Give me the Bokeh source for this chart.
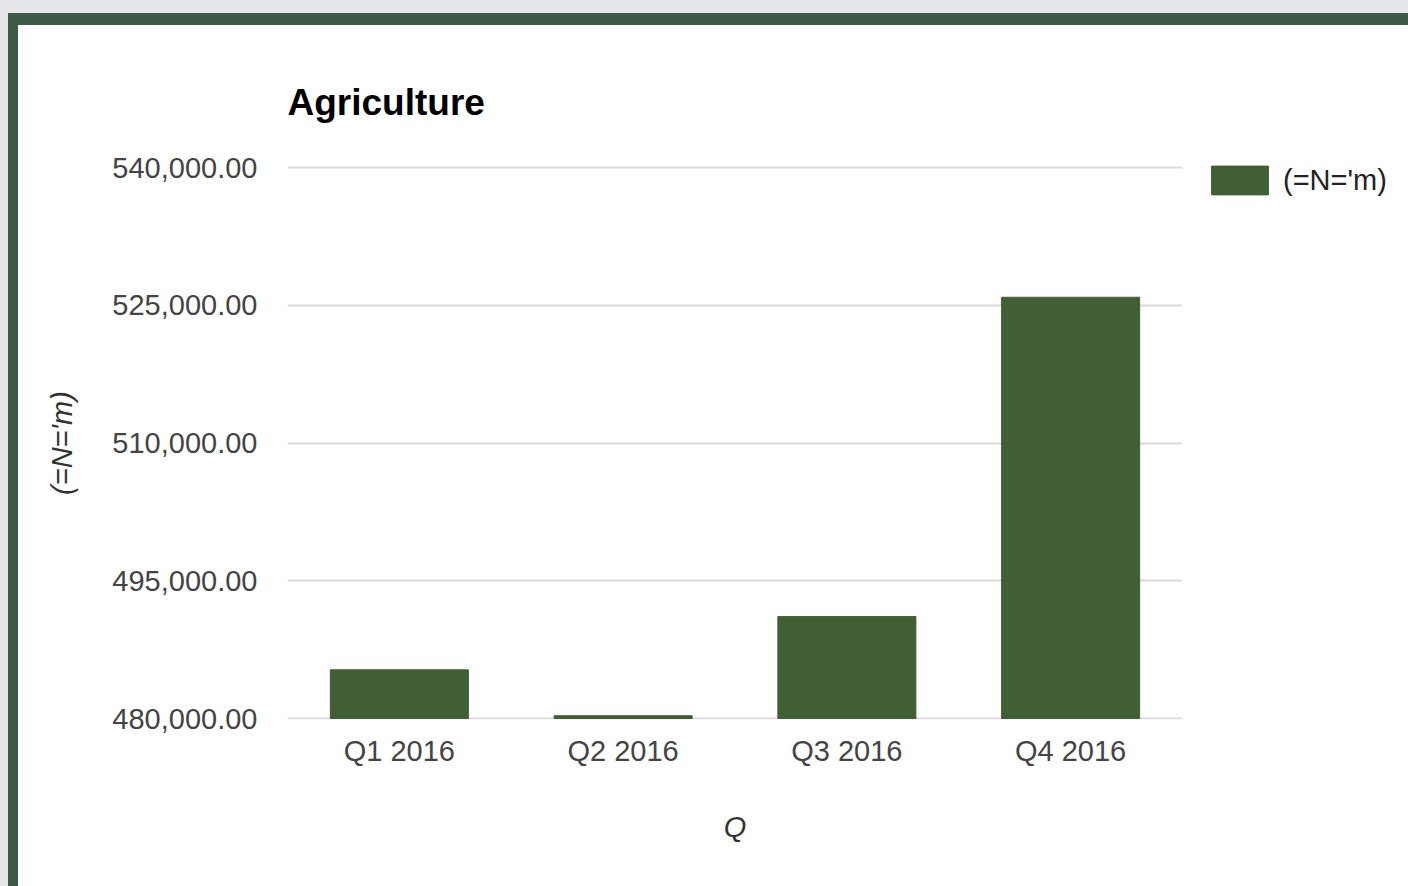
from bokeh.plotting import figure
from bokeh.models import (FixedTicker, NumeralTickFormatter, Legend, LegendItem,
                          ColumnDataSource, Range1d, Div)
from bokeh.layouts import column, row
from bokeh.embed import file_html
from bokeh.resources import INLINE

# ---- data ----
quarters = ["Q1 2016", "Q2 2016", "Q3 2016", "Q4 2016"]
values = [485300, 480300, 491100, 525870]
y_ticks = [480000, 495000, 510000, 525000, 540000]
y_min, y_max = 480000, 540000
series_name = "(=N='m)"
title_text = "Agriculture"
x_title = "Q"
y_title = "(=N='m)"

BAR = "#415e34"
FRAME = "#3d5b48"
PAGE = "#e6e7e9"
FONT = "Liberation Sans"

PW, PH = 1408, 886            # page size
GT, GL = 13, 8                 # grey strips (top, left)
BT, BL = 12, 10                # green border (top, left)
W, H = PW - GL - BL, PH - GT - BT
PAD = 1                        # px of room so the end grid lines are not clipped
ML, MT = 287 - GL - BL, 167 - GT - BT - PAD
FW, FH = 895, 551 + 2 * PAD
MR, MB = W - ML - FW, H - MT - FH
pad_val = (y_max - y_min) / 551 * PAD

src = ColumnDataSource(dict(q=quarters, v=values))

p = figure(x_range=quarters, y_range=Range1d(y_min - pad_val, y_max + pad_val),
           frame_width=FW, frame_height=FH, output_backend="svg",
           toolbar_location=None, margin=0,
           min_border_left=ML, min_border_right=MR, min_border_top=MT,
           min_border_bottom=MB)

r = p.vbar(x="q", top="v", bottom=y_min, width=0.617, source=src,
           fill_color=BAR, line_color=BAR)

p.title.text = title_text
p.title.text_font = FONT
p.title.text_font_size = "37px"
p.title.text_font_style = "bold"
p.title.text_color = "#000000"
p.title.align = "left"
p.title.standoff = 88

p.outline_line_color = None
p.background_fill_color = "white"
p.border_fill_color = "white"

p.xgrid.grid_line_color = None
p.ygrid.grid_line_color = "#d9d9d9"
p.ygrid.grid_line_width = 2
p.ygrid.level = "underlay"

p.yaxis.ticker = FixedTicker(ticks=y_ticks)
p.ygrid.ticker = FixedTicker(ticks=y_ticks)
p.yaxis.formatter = NumeralTickFormatter(format="0,0.00")
for ax in (p.xaxis, p.yaxis):
    ax.axis_line_color = None
    ax.major_tick_line_color = None
    ax.minor_tick_line_color = None
    ax.major_tick_out = 0
    ax.major_tick_in = 0
    ax.major_label_text_font = FONT
    ax.major_label_text_font_size = "29px"
    ax.major_label_text_color = "#444444"
    ax.axis_label_text_font = FONT
    ax.axis_label_text_font_size = "29px"
    ax.axis_label_text_font_style = "italic"
    ax.axis_label_text_color = "#333333"

p.yaxis.major_label_standoff = 30
p.yaxis.axis_label = y_title
p.yaxis.axis_label_standoff = 31
p.xaxis.major_label_standoff = 16 - PAD
p.xaxis.axis_label = x_title
p.xaxis.axis_label_standoff = 41

legend = Legend(items=[LegendItem(label=series_name, renderers=[r])],
                location=(22, FH - 36 + 5 - PAD), orientation="vertical")
legend.margin = 0
legend.padding = 0
legend.glyph_width = 71
legend.glyph_height = 36
legend.label_standoff = 8
legend.label_text_font = FONT
legend.label_text_font_size = "29px"
legend.label_text_color = "#222222"
legend.border_line_color = None
legend.background_fill_alpha = 0
p.add_layout(legend, "right")


def block(w, h, c):
    return Div(text="", width=w, height=h, margin=0,
               styles={"background-color": c})


page = column(
    block(PW, GT, PAGE),
    row(block(GL, PH - GT, PAGE),
        block(BL, PH - GT, FRAME),
        column(block(PW - GL - BL, BT, FRAME), p, spacing=0, margin=0),
        spacing=0, margin=0),
    spacing=0, margin=0)

open("out.html", "w").write(file_html(page, INLINE))
